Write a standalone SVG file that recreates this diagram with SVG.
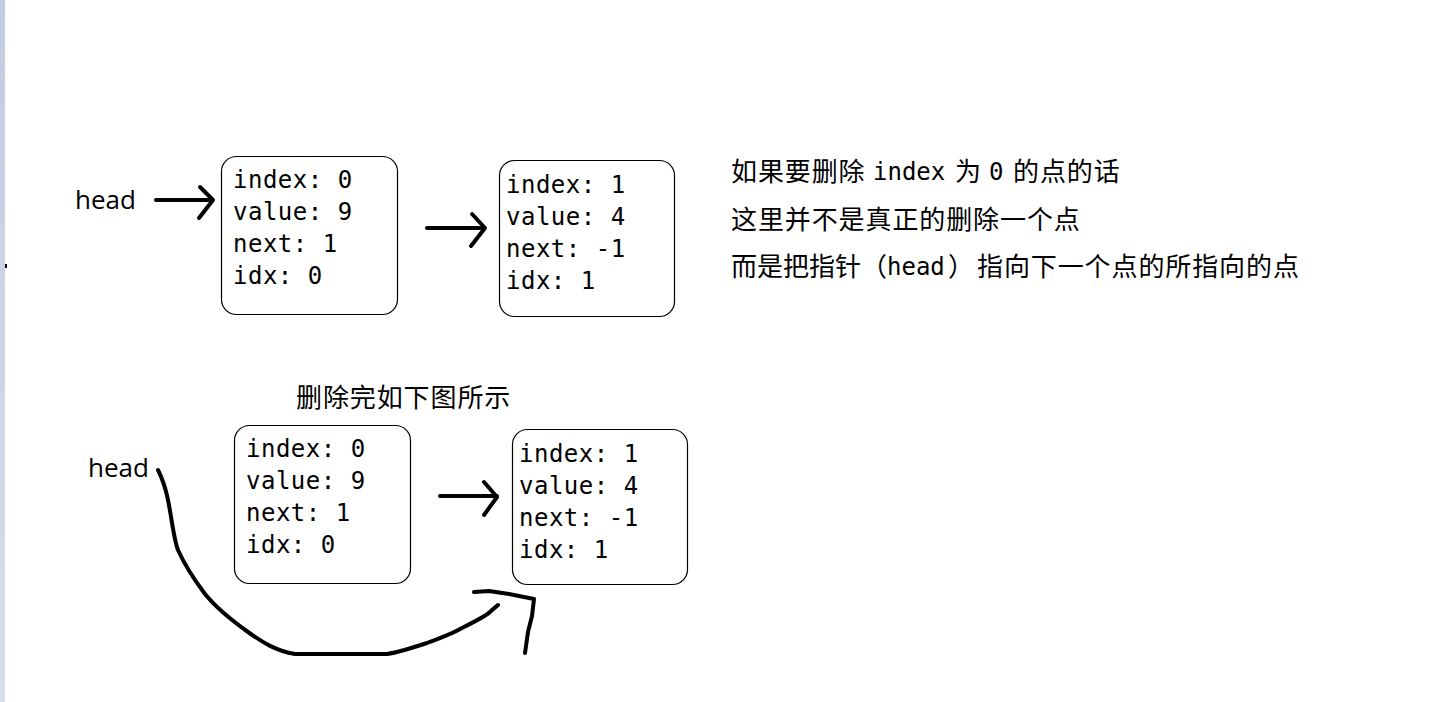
<svg xmlns="http://www.w3.org/2000/svg" width="1438" height="702" viewBox="0 0 1438 702">
<defs>
<linearGradient id="strip" x1="0" y1="0" x2="0" y2="1">
<stop offset="0" stop-color="#c3cde0"/>
<stop offset="1" stop-color="#d5deec"/>
</linearGradient>
</defs>
<style>
.box{fill:#fff;stroke:#000;stroke-width:1.2}
.mono{font-family:"DejaVu Sans Mono","Liberation Mono",monospace;font-size:24px;letter-spacing:0.5px;fill:#000}
.m{font-family:"DejaVu Sans Mono","Liberation Mono",monospace;font-size:24px;letter-spacing:0}
.sans{font-family:"Open Sans","Noto Sans","Noto Sans CJK SC",sans-serif;font-size:26px;fill:#000}
.cjk{font-family:"Noto Sans CJK SC",sans-serif;font-size:26px;letter-spacing:0.9px;fill:#000}
.ink{fill:none;stroke:#000;stroke-width:4;stroke-linecap:round;stroke-linejoin:round}
</style>
<rect width="1438" height="702" fill="#fff"/>
<rect x="0" y="0" width="5" height="702" fill="url(#strip)"/>
<rect x="5" y="264" width="2" height="4" fill="#000"/>

<g id="head1"><text class="sans" x="75" y="209">head</text></g>
<g id="node1">
<rect class="box" x="221.5" y="156.5" width="176" height="158" rx="15"/>
<text class="mono" x="233" y="188">index: 0</text>
<text class="mono" x="233" y="220">value: 9</text>
<text class="mono" x="233" y="252">next: 1</text>
<text class="mono" x="233" y="284">idx: 0</text>
</g>
<g id="node2">
<rect class="box" x="499.5" y="160.5" width="175" height="156" rx="15"/>
<text class="mono" x="506" y="193">index: 1</text>
<text class="mono" x="506" y="225">value: 4</text>
<text class="mono" x="506" y="257">next: -1</text>
<text class="mono" x="506" y="289">idx: 1</text>
</g>

<g id="note">
<text class="cjk" x="731" y="181">如果要删除<tspan class="m" x="873" y="180">index</tspan><tspan x="955" y="181">为</tspan><tspan class="m" x="989" y="180">0</tspan><tspan x="1013" y="181">的点的话</tspan></text>
<text class="cjk" x="731" y="229">这里并不是真正的删除一个点</text>
<text class="cjk" x="731" y="276"><tspan style="letter-spacing:0">而是把指针</tspan><tspan x="861" style="letter-spacing:0">（</tspan><tspan class="m" x="887" y="275">head</tspan><tspan x="948" y="276" style="letter-spacing:0">）</tspan><tspan x="977">指向下一个点的所指向的点</tspan></text>
</g>

<g id="caption"><text class="cjk" x="296" y="407">删除完如下图所示</text></g>

<g id="head2"><text class="sans" x="88" y="477">head</text></g>
<g id="node3">
<rect class="box" x="234.5" y="425.5" width="176" height="158" rx="15"/>
<text class="mono" x="246" y="457">index: 0</text>
<text class="mono" x="246" y="489">value: 9</text>
<text class="mono" x="246" y="521">next: 1</text>
<text class="mono" x="246" y="553">idx: 0</text>
</g>
<g id="node4">
<rect class="box" x="512.5" y="429.5" width="175" height="155" rx="15"/>
<text class="mono" x="519" y="462">index: 1</text>
<text class="mono" x="519" y="494">value: 4</text>
<text class="mono" x="519" y="526">next: -1</text>
<text class="mono" x="519" y="558">idx: 1</text>
</g>

<g id="connectors">
<path class="ink" d="M156,200 L212,200 M200,187 L213,200 L199,218"/>
<path class="ink" d="M427,228 L485,228 M472,214 L485,228 L471,246"/>
<path class="ink" d="M440,496 L497,496 M484,482 L497,497 L484,515"/>
<path class="ink" d="M158,470 C162,478 166,490 168,500 C172,520 174,540 178,550 C186,568 196,582 205,594 C218,610 234,622 248,632 C262,642 276,651 295,654 L387,654 C400,652 412,648 427,643 C440,638 452,634 462,628 C474,622 486,616 490,612 C494,608 497,606 498,605"/>
<path class="ink" d="M474,592 L489,591 L509,594 L534,599 L532,616 L528,632 L525,653"/>
</g>
</svg>
